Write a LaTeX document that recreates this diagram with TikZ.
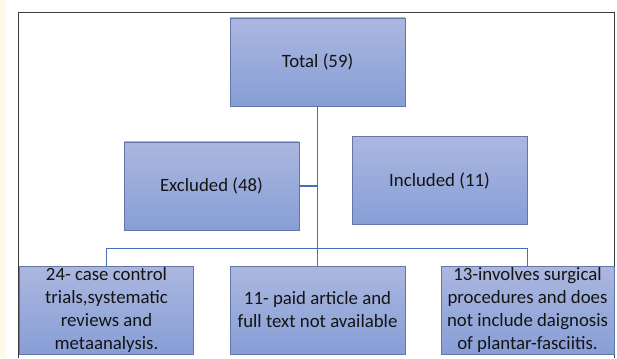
\documentclass[tikz,border=0pt]{standalone}
\usepackage{fontspec}
\setmainfont{Carlito}
\usepackage{tikz}
\definecolor{boxtop}{RGB}{171,183,223}
\definecolor{boxbot}{RGB}{135,158,214}
\definecolor{boxedge}{RGB}{98,118,168}
\definecolor{linkblue}{RGB}{70,110,190}
\definecolor{framegray}{RGB}{60,60,60}
\definecolor{sidebar}{RGB}{255,250,230}

\begin{document}
\begin{tikzpicture}[x=1pt, y=-1pt]
\tikzset{every node/.style={font=\fontsize{18.8}{23}\selectfont, text=black!92},
  blockbox/.style={rectangle, draw=boxedge, line width=0.7pt, top color=boxtop, bottom color=boxbot,
    minimum width=175pt, minimum height=88pt, align=center, inner sep=1pt},
  link/.style={draw=linkblue, line width=1.3pt}}
\useasboundingbox (0,0) rectangle (617,358);
\fill[sidebar] (0,0) rectangle (6,358);
\draw[framegray, line width=1.8pt] (18.5,358) -- (18.5,12.5) -- (614.5,12.5) -- (614.5,358);

% top level
\node[blockbox] (total) at (317.5,62) {Total (59)};
\node[blockbox] (excl) at (211.5,186) {Excluded (48)};
\node[blockbox] (incl) at (439.5,180.5) {Included (11)};

% reasons for exclusion
\node[blockbox, minimum width=173.5pt] (casectrl) at (106.5,310) {24- case control\\trials,systematic\\reviews and\\metaanalysis.};
\node[blockbox] (paid) at (317.5,310) {11- paid article and\\full text not available};
\node[blockbox, minimum width=173pt] (surg) at (527.5,310) {13-involves surgical\\procedures and does\\not include daignosis\\of plantar-fasciitis.};

\coordinate (split) at (total.south |- 0,248.5);
\draw[link] (total.south) -- (split);
\draw[link] (excl.east) -- (excl.east -| total.south);
\draw[link] (casectrl.north) |- (split) -| (surg.north);
\draw[link] (split) -- (paid.north);
\end{tikzpicture}
\end{document}
